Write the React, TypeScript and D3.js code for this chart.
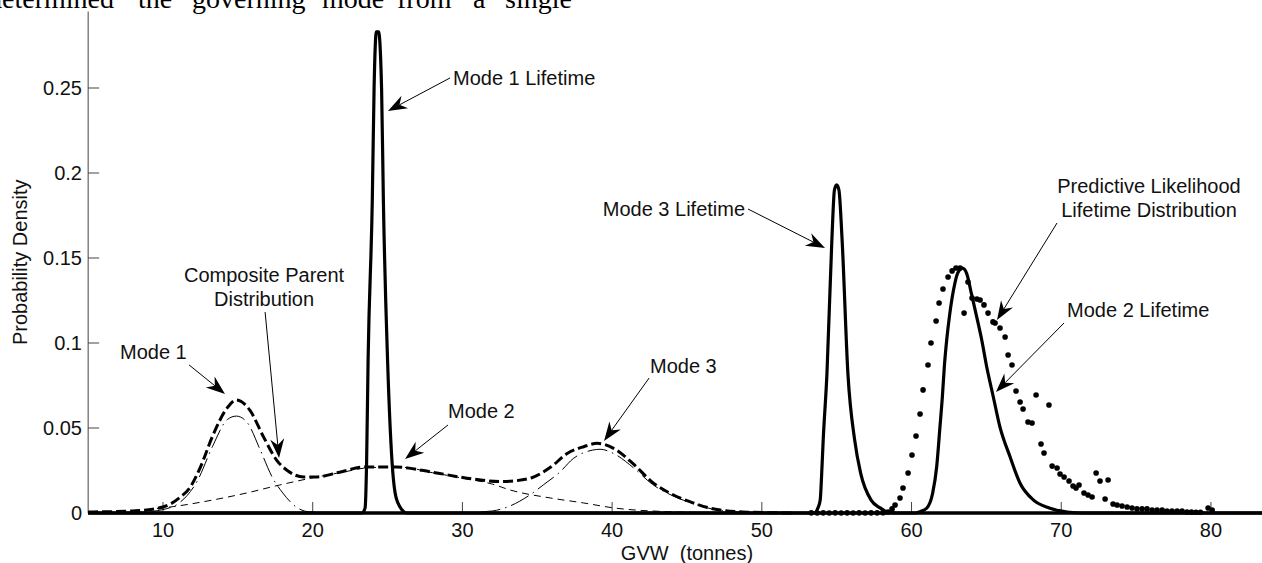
import React from 'react'
import * as d3 from 'd3'

const WIDTH = 1262
const HEIGHT = 563

// axes limits (GVW in tonnes, probability density)
const xDomain: [number, number] = [5, 85]
const yDomain: [number, number] = [0, 0.295]
const xTicks = [10, 20, 30, 40, 50, 60, 70, 80]
const yTicks = [0, 0.05, 0.1, 0.15, 0.2, 0.25]
const yTickLabels = ['0', '0.05', '0.1', '0.15', '0.2', '0.25']

// composite parent distribution (thick dashed)
const compositeGvw = [5, 8, 10, 11.1, 11.8, 12.5, 13.3, 14.3, 14.9, 15.8, 16.7, 17.6, 18.3, 19.4, 20.2, 21.8, 23.4, 25.6, 28.0, 30.3, 32.5, 33.6, 34.7, 35.9, 37.0, 38.1, 39.0, 40.1, 41.4, 42.7, 44.1, 45.4, 47.0, 49, 52]
const compositeDensity = [0.0006, 0.0012, 0.0035, 0.009, 0.015, 0.027, 0.045, 0.062, 0.0665, 0.0605, 0.045, 0.031, 0.025, 0.0212, 0.0212, 0.024, 0.027, 0.027, 0.024, 0.0205, 0.0185, 0.019, 0.021, 0.027, 0.035, 0.039, 0.041, 0.038, 0.029, 0.018, 0.0106, 0.006, 0.002, 0.0005, 0]

// mode components (thin)
const mode1Gvw = [5, 8, 9, 10, 11.1, 12.3, 13.3, 14.3, 14.9, 15.6, 16.5, 17.3, 18.0, 18.9, 19.8, 21, 23]
const mode1Density = [0, 0.0002, 0.0008, 0.002, 0.006, 0.019, 0.039, 0.055, 0.057, 0.0535, 0.037, 0.021, 0.0118, 0.0035, 0.0006, 0.0001, 0]
const mode2Gvw = [8, 10, 13.3, 15.6, 17.8, 20.0, 22, 24, 26, 28, 30, 32, 33.2, 35.9, 38.1, 40.1, 43.7, 47, 50]
const mode2Density = [0.0015, 0.003, 0.0076, 0.0118, 0.0165, 0.0207, 0.024, 0.0268, 0.0268, 0.0237, 0.0205, 0.017, 0.0135, 0.0088, 0.0059, 0.003, 0.0008, 0.0002, 0]
const mode3Gvw = [27, 30, 32, 33.0, 34.5, 35.4, 36.5, 37.4, 38.7, 39.2, 40.1, 41.4, 42.7, 44.1, 45.4, 47.0, 49, 52]
const mode3Density = [0, 0.0002, 0.0012, 0.0035, 0.0106, 0.0165, 0.024, 0.032, 0.037, 0.0375, 0.035, 0.0268, 0.0168, 0.0099, 0.0056, 0.0018, 0.0004, 0]

// lifetime distributions (thick solid)
const life1Gvw = [5, 23.3, 23.5, 23.6, 23.7, 23.98, 24.1, 24.25, 24.4, 24.6, 24.72, 25.0, 25.3, 25.5, 25.8, 26.3, 85]
const life1Density = [0, 0, 0.003, 0.03, 0.09, 0.184, 0.25, 0.283, 0.283, 0.25, 0.184, 0.09, 0.03, 0.012, 0.004, 0, 0]
const life3Gvw = [5, 53.5, 53.75, 53.9, 54.0, 54.1, 54.35, 54.68, 54.85, 55.0, 55.15, 55.36, 55.75, 56.2, 56.6, 57.3, 57.9, 58.4, 59, 85]
const life3Density = [0, 0, 0.003, 0.0076, 0.0235, 0.043, 0.082, 0.161, 0.19, 0.193, 0.19, 0.161, 0.082, 0.043, 0.0235, 0.0076, 0.003, 0.0005, 0, 0]
const life2Gvw = [5, 60.3, 60.57, 61.01, 61.41, 61.68, 61.9, 62.06, 62.19, 62.35, 62.53, 62.8, 63.1, 63.4, 63.68, 64.0, 64.35, 64.69, 65.02, 65.46, 65.9, 66.58, 67.25, 68.15, 69.2, 70.4, 71.5, 85]
const life2Density = [0, 0, 0.0008, 0.0028, 0.0116, 0.0272, 0.0508, 0.0684, 0.086, 0.1018, 0.1155, 0.131, 0.1415, 0.144, 0.141, 0.129, 0.1155, 0.1018, 0.086, 0.0684, 0.0508, 0.0331, 0.0175, 0.0076, 0.003, 0.0006, 0, 0]

// predictive likelihood lifetime distribution (dots)
const predGvw = [53.3, 53.7, 54.1, 54.5, 54.9, 55.3, 55.7, 56.1, 56.5, 56.9, 57.3, 57.7, 58.1, 58.43, 58.7, 58.9, 59.23, 59.43, 59.77, 60.03, 60.3, 60.57, 60.77, 61.1, 61.3, 61.64, 61.84, 62.1, 62.44, 62.71, 62.97, 63.24, 63.51, 63.77, 64.04, 64.37, 64.58, 64.84, 65.11, 65.44, 65.58, 65.91, 66.25, 66.45, 66.71, 66.98, 67.25, 67.45, 67.78, 68.05, 68.32, 68.65, 68.85, 69.18, 69.39, 69.72, 69.92, 70.19, 70.52, 70.79, 70.99, 71.19, 71.52, 71.79, 72.06, 72.33, 72.59, 72.93, 73.13, 73.46, 73.73, 74.06, 74.4, 74.73, 75.06, 75.4, 75.73, 76.07, 76.4, 76.74, 77.07, 77.4, 77.74, 78.07, 78.4, 78.7, 79.0, 79.3, 79.81, 80.08]
const predDensity = [0.0001, 0.0, 0.0001, 0.0, 0.0001, 0.0, 0.0001, 0.0, 0.0001, 0.0, 0.0001, 0.0001, 0.0002, 0.0006, 0.0024, 0.0047, 0.0088, 0.0147, 0.0235, 0.0341, 0.0453, 0.0582, 0.0724, 0.0871, 0.1, 0.1129, 0.1235, 0.1318, 0.1388, 0.1424, 0.1441, 0.1441, 0.1176, 0.1359, 0.1265, 0.1259, 0.1253, 0.1224, 0.1176, 0.1124, 0.1118, 0.1088, 0.1035, 0.0929, 0.0871, 0.0718, 0.0653, 0.0612, 0.0535, 0.0529, 0.0694, 0.0406, 0.0353, 0.0635, 0.0276, 0.0265, 0.0229, 0.0212, 0.0188, 0.0159, 0.0147, 0.0165, 0.0118, 0.0106, 0.0094, 0.0235, 0.0188, 0.0082, 0.0194, 0.0053, 0.0047, 0.0041, 0.0035, 0.0029, 0.0024, 0.0024, 0.0024, 0.0018, 0.0018, 0.0018, 0.0012, 0.0012, 0.0012, 0.0012, 0.0006, 0.0005, 0.0004, 0.0004, 0.0029, 0.0018]

// annotations: label lines, text anchor point, arrow tail and tip (data units)
const annotationLabels = [
  ['Mode 1 Lifetime'],
  ['Mode 3 Lifetime'],
  ['Mode 3'],
  ['Mode 2'],
  ['Mode 1'],
  ['Composite Parent', 'Distribution'],
  ['Predictive Likelihood', 'Lifetime Distribution'],
  ['Mode 2 Lifetime'],
]
const annotationAnchor = ['start', 'end', 'start', 'start', 'start', 'middle', 'middle', 'start']
const annotationText: [number, number][] = [
  [29.37, 0.2518], [48.88, 0.1747], [42.53, 0.0824], [29.04, 0.0559],
  [7.13, 0.0906], [16.75, 0.1359], [75.86, 0.1882], [70.39, 0.1153],
]
const annotationTail: [number, number][] = [
  [29.17, 0.2559], [49.08, 0.1788], [42.47, 0.0794], [29.04, 0.0518],
  [11.74, 0.0871], [16.82, 0.1182], [69.72, 0.1706], [70.19, 0.1118],
]
const annotationTip: [number, number][] = [
  [25.03, 0.2365], [54.22, 0.1559], [39.46, 0.0424], [26.17, 0.0318],
  [14.14, 0.07], [17.75, 0.0324], [65.71, 0.1135], [65.64, 0.0712],
]

// clipped running text above the figure
const headerWords = ['determined', 'the', 'governing', 'mode', 'from', 'a', 'single']
const headerX = [-12, 138, 192, 322, 397, 473, 505]

const FONT = '"Liberation Sans", Arial, Helvetica, sans-serif'
const FS = 20

export default function App() {
  const x = d3.scaleLinear().domain(xDomain).range([88.15, 1285.8])
  const y = d3.scaleLinear().domain(yDomain).range([513, 11.5])

  const path = (xs: number[], ys: number[]) =>
    d3.line<number>()
      .x((_, i) => x(xs[i]))
      .y((_, i) => y(ys[i]))
      .curve(d3.curveMonotoneX)(xs) || ''

  const arrow = (i: number) => {
    const [tx, ty] = annotationTail[i]
    const [hx, hy] = annotationTip[i]
    const x0 = x(tx), y0 = y(ty), x1 = x(hx), y1 = y(hy)
    const a = Math.atan2(y1 - y0, x1 - x0)
    const L = 19, Wd = 7, N = 13
    const ca = Math.cos(a), sa = Math.sin(a)
    const pt = (back: number, side: number) =>
      `${x1 - back * ca - side * sa},${y1 - back * sa + side * ca}`
    return (
      <g key={'arr' + i}>
        <line x1={x0} y1={y0} x2={x1 - N * ca} y2={y1 - N * sa} stroke="#000" strokeWidth={1} />
        <polygon points={`${x1},${y1} ${pt(L, Wd)} ${pt(N, 0)} ${pt(L, -Wd)}`} fill="#000" />
      </g>
    )
  }

  return (
    <svg width={WIDTH} height={HEIGHT} style={{ position: 'absolute', left: 0, top: 0, background: '#fff' }}>
      <text y={8} fontFamily='"Liberation Serif", "Times New Roman", serif' fontSize={28} fill="#000">
        {headerWords.map((w, i) => (
          <tspan key={w} x={headerX[i]}>{w}</tspan>
        ))}
      </text>

      {/* axes */}
      <line x1={x(xDomain[0])} x2={x(xDomain[0])} y1={y(yDomain[1])} y2={y(0)} stroke="#444" strokeWidth={1} />
      <line x1={x(xDomain[0])} x2={WIDTH} y1={y(0)} y2={y(0)} stroke="#444" strokeWidth={1} />
      {yTicks.map((t, i) => (
        <g key={'yt' + t}>
          <line x1={x(xDomain[0])} x2={x(xDomain[0]) + 11} y1={y(t)} y2={y(t)} stroke="#444" strokeWidth={1} />
          <text x={82} y={y(t)} dy="0.36em" textAnchor="end" fontFamily={FONT} fontSize={FS} fill="#111">
            {yTickLabels[i]}
          </text>
        </g>
      ))}
      {xTicks.map(t => (
        <g key={'xt' + t}>
          <line x1={x(t)} x2={x(t)} y1={y(0)} y2={y(0) - 11} stroke="#444" strokeWidth={1} />
          <text x={x(t)} y={537} textAnchor="middle" fontFamily={FONT} fontSize={FS} fill="#111">{t}</text>
        </g>
      ))}
      <text x={(x(xDomain[0]) + x(xDomain[1])) / 2} y={560} textAnchor="middle" fontFamily={FONT} fontSize={FS} fill="#111" style={{ whiteSpace: 'pre' }}>
        GVW  (tonnes)
      </text>
      <text transform={`translate(27,${(y(0) + y(yDomain[1])) / 2}) rotate(-90)`} textAnchor="middle" fontFamily={FONT} fontSize={FS} fill="#111">
        Probability Density
      </text>

      {/* component distributions */}
      <path d={path(mode2Gvw, mode2Density)} fill="none" stroke="#000" strokeWidth={1} strokeDasharray="7,5" />
      <path d={path(mode1Gvw, mode1Density)} fill="none" stroke="#000" strokeWidth={1} strokeDasharray="20,5,1.5,5" />
      <path d={path(mode3Gvw, mode3Density)} fill="none" stroke="#000" strokeWidth={1} strokeDasharray="20,5,1.5,5" />
      <path d={path(compositeGvw, compositeDensity)} fill="none" stroke="#000" strokeWidth={3} strokeDasharray="10,4" />

      {/* lifetime distributions */}
      <path d={path(life1Gvw, life1Density)} fill="none" stroke="#000" strokeWidth={3.2} strokeLinejoin="round" />
      <path d={path(life3Gvw, life3Density)} fill="none" stroke="#000" strokeWidth={3.2} strokeLinejoin="round" />
      <path d={path(life2Gvw, life2Density)} fill="none" stroke="#000" strokeWidth={3.2} strokeLinejoin="round" />

      {predGvw.map((g, i) => (
        <circle key={'p' + i} cx={x(g)} cy={y(predDensity[i])} r={2.8} fill="#000" />
      ))}

      {/* annotations */}
      {annotationLabels.map((lines, i) => (
        <text key={'lab' + i} x={x(annotationText[i][0])} y={y(annotationText[i][1])}
          textAnchor={annotationAnchor[i] as any} fontFamily={FONT} fontSize={FS} fill="#111">
          {lines.map((l, j) => (
            <tspan key={j} x={x(annotationText[i][0])} dy={j === 0 ? 0 : 24}>{l}</tspan>
          ))}
        </text>
      ))}
      {annotationLabels.map((_, i) => arrow(i))}
    </svg>
  )
}
